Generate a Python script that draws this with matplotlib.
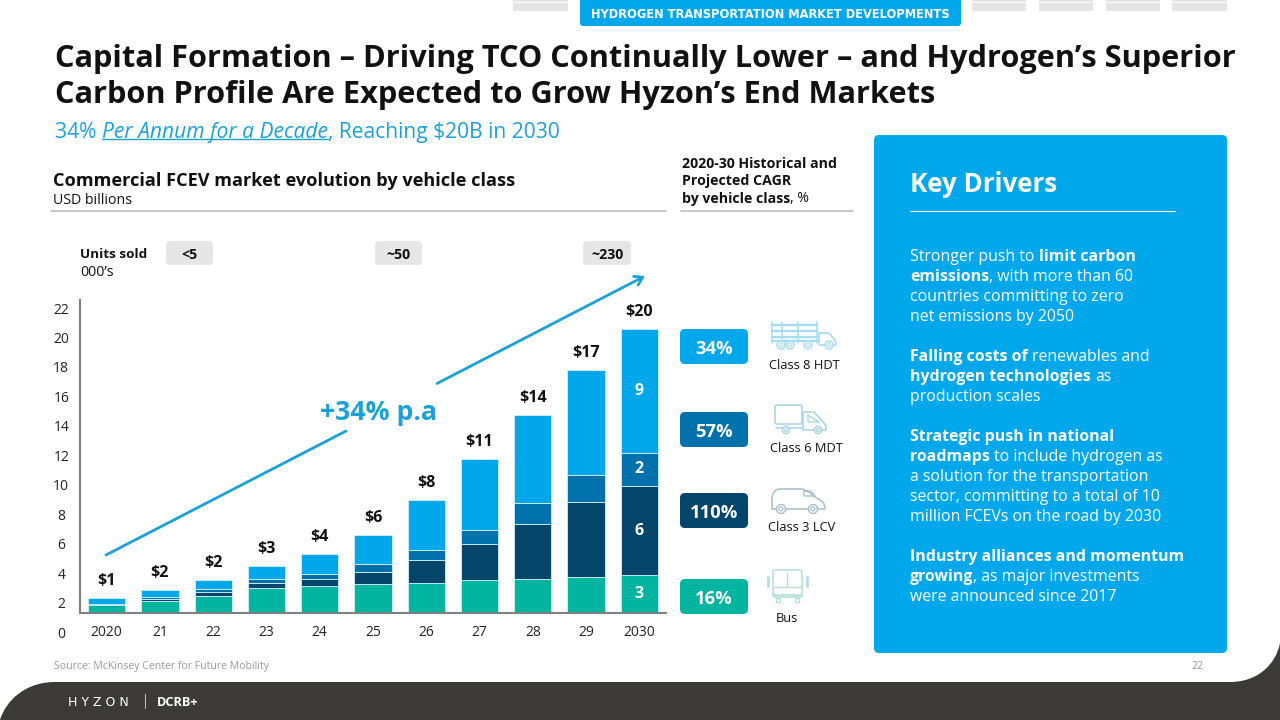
import matplotlib
matplotlib.use("Agg")
import matplotlib.pyplot as plt
from matplotlib.patches import FancyBboxPatch, Rectangle, PathPatch, Circle
from matplotlib.path import Path

FONT = "Open Sans"
plt.rcParams["font.family"] = [FONT, "DejaVu Sans"]

# ---- data -----------------------------------------------------------------
years = ["2020", "21", "22", "23", "24", "25", "26", "27", "28", "29", "2030"]
bus = [0.58, 0.84, 1.22, 1.78, 1.92, 2.04, 2.13, 2.29, 2.39, 2.55, 2.64]
class3 = [0.02, 0.12, 0.26, 0.30, 0.47, 0.84, 1.57, 2.53, 3.88, 5.26, 6.27]
class6 = [0.05, 0.17, 0.19, 0.28, 0.35, 0.58, 0.75, 1.03, 1.43, 1.89, 2.34]
class8 = [0.40, 0.51, 0.68, 0.91, 1.40, 2.04, 3.51, 4.98, 6.22, 7.37, 8.70]
totals = ["$1", "$2", "$2", "$3", "$4", "$6", "$8", "$11", "$14", "$17", "$20"]
last_labels = ["3", "6", "2", "9"]
tick_labels = ["0", "2", "4", "6", "8", "10", "12", "14", "16", "18", "20", "22"]
cagr = ["34%", "57%", "110%", "16%"]
vehicles = ["Class 8 HDT", "Class 6 MDT", "Class 3 LCV", "Bus"]
units = ["<5", "~50", "~230"]

TEAL, NAVY, MID, SKY = "#00B4A0", "#03456B", "#0071AB", "#00A7EB"
series = [(bus, TEAL), (class3, NAVY), (class6, MID), (class8, SKY)]
BLUE_TXT = "#1BA0D7"
DARK = "#3B3A36"

W, H = 1280, 720
fig = plt.figure(figsize=(12.8, 7.2), dpi=100, facecolor="white")

# ---- chart ----------------------------------------------------------------
PX_UNIT = 14.25            # pixels per USD billion of the bars
TICK_PX = 29.45            # the printed axis labels are spaced independently
tick_pos = [(613 - (632 - i * TICK_PX)) / PX_UNIT for i in range(len(tick_labels))]
y_low, y_high = (613 - 640) / PX_UNIT, (613 - 300) / PX_UNIT
ax = fig.add_axes([80 / W, 1 - 640 / H, (666 - 80) / W, 340 / H])
ax.patch.set_alpha(0)
ax.set_xlim(-0.5, 10.5)
ax.set_ylim(y_low, y_high)
x = list(range(len(years)))
bottom = [0.0] * len(years)
for vals, col in series:
    ax.bar(x, vals, 0.7, bottom=bottom, color=col, edgecolor="#D5EFF5", linewidth=0.6, zorder=2)
    bottom = [b + v for b, v in zip(bottom, vals)]
for xi, top, lab in zip(x, bottom, totals):
    ax.annotate(lab, (xi, top), xytext=(0, 12.2), textcoords="offset points", ha="center",
                va="center", fontsize=11.5, fontweight="bold", color="#111111")
cum = 0.0
for (vals, _), lab in zip(series, last_labels):
    ax.text(10, cum + vals[-1] / 2, lab, ha="center", va="center", color="white",
            fontsize=11.5, fontweight="bold", zorder=3)
    cum += vals[-1]
for s in ("top", "right"):
    ax.spines[s].set_visible(False)
ax.spines["bottom"].set_position(("data", 0))
ax.spines["left"].set_bounds(0, y_high)
for s in ("bottom", "left"):
    ax.spines[s].set_color("#7F7F7F")
    ax.spines[s].set_linewidth(1.5)
ax.set_xticks(x, years)
ax.set_yticks(tick_pos, tick_labels)
ax.tick_params(axis="x", length=0, pad=9, labelsize=10, labelcolor="#222222")
ax.tick_params(axis="y", length=0, pad=13.5, labelsize=10, labelcolor="#222222")
for tl in ax.get_yticklabels():
    tl.set_ha("center")

# ---- slide furniture (pixel overlay) --------------------------------------
ov = fig.add_axes([0, 0, 1, 1], zorder=5)
ov.patch.set_alpha(0)
ov.set_xlim(0, W)
ov.set_ylim(H, 0)
ov.axis("off")
renderer = fig.canvas.get_renderer()


def box(x0, y0, x1, y1, col, r=4, z=1):
    ov.add_patch(FancyBboxPatch((x0 + r, y0 + r), x1 - x0 - 2 * r, y1 - y0 - 2 * r,
                                boxstyle=f"round,pad={r},rounding_size={r}", fc=col, ec="none", zorder=z))


def width(s, **kw):
    m = ov.text(0, 0, s + "|", **kw)
    b = ov.text(0, 0, "|", **kw)
    w = m.get_window_extent(renderer).width - b.get_window_extent(renderer).width
    m.remove()
    b.remove()
    return w


def runs(x0, y, parts, size, color):
    """Lay out pieces of differing weight/style on one line; returns the spans."""
    spans = []
    for s, kw in parts:
        st = dict(fontsize=size, color=color, **kw)
        ov.text(x0, y, s, ha="left", va="center_baseline", zorder=6, **st)
        w = width(s, **st)
        spans.append((x0, x0 + w))
        x0 += w
    return spans


R = {}
B = {"fontweight": "bold"}
IT = {"fontstyle": "italic"}


def t(x0, y, s, size, color="#111111", ha="left", **kw):
    ov.text(x0, y, s, fontsize=size, color=color, ha=ha, va="center_baseline", zorder=6, **kw)


def ln(xs, ys, col, lw=1.0, **kw):
    ov.plot(xs, ys, color=col, lw=lw, solid_capstyle="round", zorder=4, **kw)


# header tabs
for a, b in [(513, 568), (972, 1026), (1039, 1093), (1106, 1160), (1172, 1227)]:
    ov.add_patch(Rectangle((a, 0), b - a, 11, fc="#E6E5E5", ec="none"))
    ln([a, b], [1.5, 1.5], "white", 0.8)
box(580, -6, 961, 26, SKY, r=3)
t(770, 13.5, "HYDROGEN TRANSPORTATION MARKET DEVELOPMENTS", 8.3, "white", ha="center",
  fontweight="bold", family="DejaVu Sans")

# title block
t(55, 56, "Capital Formation – Driving TCO Continually Lower – and Hydrogen’s Superior", 22.18,
  "#111111", fontweight="bold")
t(55, 91, "Carbon Profile Are Expected to Grow Hyzon’s End Markets", 22.18, "#111111", fontweight="bold")
sp = runs(55, 130, [("34% ", R), ("Per Annum for a Decade", IT), (", Reaching $20B in 2030", R)], 15.1, BLUE_TXT)
ln(sp[1], [139, 139], BLUE_TXT, 1.0)

# left heading
t(53, 179, "Commercial FCEV market evolution by vehicle class", 13.05, fontweight="bold")
t(53, 199, "USD billions", 10.2)
ln([51, 666], [211, 211], "#BFBFBF", 1.2)
t(682, 162, "2020-30 Historical and", 10.2, fontweight="bold")
t(682, 179.5, "Projected CAGR", 10.2, fontweight="bold")
runs(682, 197, [("by vehicle class", B), (", %", R)], 10.2, "#111111")
ln([681, 853], [211, 211], "#BFBFBF", 1.2)

# units row
t(80, 253.5, "Units sold", 9.7, fontweight="bold")
t(80, 271, "000’s", 10.2)
for (a, b), u in zip([(166, 213), (375, 422), (583, 631)], units):
    box(a, 241, b, 265, "#E7E6E6", r=4)
    t((a + b) / 2, 253.5, u, 10.2, ha="center", fontweight="bold")

# growth arrow
ln([106, 346], [555, 431], BLUE_TXT, 2.0)
ov.annotate("", xy=(645, 276), xytext=(437, 383.5),
            arrowprops=dict(arrowstyle="->,head_length=0.55,head_width=0.35", color=BLUE_TXT, lw=2,
                            shrinkA=0, shrinkB=0))
t(378, 410, "+34% p.a", 19.2, BLUE_TXT, ha="center", fontweight="bold")

# CAGR badges
ys = [(329, 364), (412, 447), (493, 528), (579, 614)]
for (a, b), lab, col in zip(ys, cagr, [SKY, MID, NAVY, TEAL]):
    box(680, a, 748, b, col, r=5)
    t(714, (a + b) / 2 + 0.5, lab, 13.2, "white", ha="center", fontweight="bold")
for yy, lab, xc in zip([364, 447, 526, 617], vehicles, [804, 806, 802, 787]):
    t(xc, yy, lab, 9.3, ha="center")


# vehicle icons
def wheel(cx, cy, r, col, fc="white"):
    ov.add_patch(Circle((cx, cy), r, fc=fc, ec=col, lw=1.0, zorder=5))
    ov.add_patch(Circle((cx, cy), r * 0.45, fc="none", ec=col, lw=0.8, zorder=5))


c = "#A6DCF0"
for yy in (325, 331, 337, 341):
    ln([772, 817], [yy, yy], c, 1.7)
for xx in (772, 782, 798, 817):
    ln([xx, xx], [322, 343], c, 1.1)
ln([819, 819, 829, 835, 836, 819], [343, 333, 333, 340, 345, 345], c, 1.2)
for xx in (781, 790, 808, 829):
    wheel(xx, 345, 4, c)

c = "#A5D3E6"
ov.add_patch(FancyBboxPatch((776, 406), 25, 17, boxstyle="round,pad=1,rounding_size=2", fc="none", ec=c, lw=1.1, zorder=4))
ln([803, 803, 814, 824, 826, 826, 803], [429, 412, 412, 423, 426, 430, 430], c, 1.1)
ln([808, 808, 813, 819, 808], [415, 422, 422, 422, 415], c, 0.9)
ln([776, 803], [428, 428], c, 1.1)
wheel(786, 430, 3.6, c)
wheel(818, 430, 3.6, c)

c = "#A9BCC9"
van = Path([(772, 509), (772, 498), (773, 489), (780, 489), (802, 489), (807, 490), (815, 497),
            (823, 502), (825, 505), (825, 509), (772, 509)],
           [Path.MOVETO, Path.LINETO, Path.CURVE3, Path.CURVE3, Path.LINETO, Path.CURVE3, Path.CURVE3,
            Path.LINETO, Path.CURVE3, Path.CURVE3, Path.LINETO])
ov.add_patch(PathPatch(van, fc="none", ec=c, lw=1.1, zorder=4))
ln([804, 811, 815, 804, 804], [491, 491, 496, 496, 491], c, 0.9)
wheel(781, 509, 4.5, c)
wheel(813, 509, 4.5, c)

c = "#B3DFD8"
ov.add_patch(FancyBboxPatch((774, 571), 27, 25, boxstyle="round,pad=1,rounding_size=2", fc="none", ec=c, lw=1.1, zorder=4))
ln([768, 768], [577, 586], c, 2.0)
ln([807, 807], [577, 586], c, 2.0)
ln([773, 802], [595, 595], c, 1.2)
ln([787, 787], [573, 587], c, 1.0)
ln([774, 801], [587, 587], c, 1.0)
ov.add_patch(Rectangle((776, 598), 4, 4, fc="none", ec=c, lw=1, zorder=4))
ov.add_patch(Rectangle((795, 598), 4, 4, fc="none", ec=c, lw=1, zorder=4))

# key-driver panel
box(874, 135, 1227, 653, SKY, r=5)
t(910, 182, "Key Drivers", 18.6, "white", fontweight="bold")
ln([910, 1175], [211, 211], "white", 0.8)
body = [
    (255, [("Stronger push to ", R), ("limit carbon", B)]),
    (275, [("emissions", B), (", with more than 60", R)]),
    (295, [("countries committing to zero", R)]),
    (315, [("net emissions by 2050", R)]),
    (355, [("Falling costs of ", B), ("renewables and", R)]),
    (375, [("hydrogen technologies ", B), ("as", R)]),
    (395, [("production scales", R)]),
    (435, [("Strategic push in national", B)]),
    (455, [("roadmaps ", B), ("to include hydrogen as", R)]),
    (475, [("a solution for the transportation", R)]),
    (495, [("sector, committing to a total of 10", R)]),
    (515, [("million FCEVs on the road by 2030", R)]),
    (555, [("Industry alliances and momentum", B)]),
    (575, [("growing", B), (", as major investments", R)]),
    (595, [("were announced since 2017", R)]),
]
for yy, parts in body:
    runs(910, yy, parts, 11.4, "white")

# footer
t(54, 665, "Source: McKinsey Center for Future Mobility", 7.6, "#999999")
t(1198, 665, "22", 7.7, "#999999", ha="center")
verts = [(0, 720), (6, 700), (26, 682), (55, 682), (1230, 682), (1258, 682), (1276, 664), (1280, 643),
         (1280, 720), (0, 720)]
codes = [Path.MOVETO, Path.CURVE4, Path.CURVE4, Path.CURVE4, Path.LINETO, Path.CURVE4, Path.CURVE4,
         Path.CURVE4, Path.LINETO, Path.CLOSEPOLY]
ov.add_patch(PathPatch(Path(verts, codes), fc=DARK, ec="none", zorder=1))
t(98, 701, "H Y Z O N", 9.0, "white", ha="center", family="DejaVu Sans")
ln([145, 145], [694, 708], "#BBBBBB", 0.8)
t(178, 701, "DCRB+", 9.2, "white", ha="center", fontweight="bold")

fig.savefig("out.png", dpi=100)
